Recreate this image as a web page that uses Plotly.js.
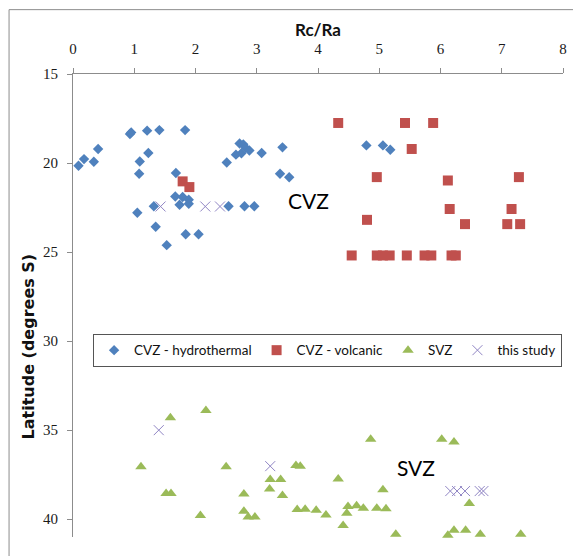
<!DOCTYPE html>
<html>
<head>
<meta charset="utf-8">
<script src="https://cdn.plot.ly/plotly-3.0.1.min.js"></script>
<style>html,body{margin:0;padding:0;background:#fff;}#chart{width:573px;height:556px;}</style>
</head>
<body>
<div id="chart"></div>
<script>
// Rc/Ra vs latitude (degrees S)
const hydroRcRa = [0.09,0.18,0.34,0.41,0.93,0.95,1.21,1.41,1.83,1.23,1.09,1.08,1.68,1.67,1.79,1.89,1.74,1.89,1.05,1.32,1.35,1.53,1.84,2.05,2.51,2.54,2.80,2.96,2.66,2.72,2.78,2.82,2.88,2.75,3.08,3.42,3.38,3.53,4.79,5.06,5.18];
const hydroLat  = [20.15,19.78,19.93,19.21,18.37,18.28,18.18,18.15,18.15,19.44,19.91,20.6,20.56,21.88,21.91,22.06,22.34,22.29,22.79,22.43,23.58,24.61,24.0,24.0,19.97,22.43,22.43,22.43,19.53,18.9,18.95,19.15,19.3,19.45,19.44,19.12,20.6,20.8,19.01,19.01,19.25];

const volcRcRa = [4.33,5.42,5.88,5.53,4.96,6.12,7.28,6.15,7.16,4.80,6.40,7.09,7.30,4.55,4.96,5.06,5.17,5.45,5.74,5.85,6.18,6.25,1.79,1.90];
const volcLat  = [17.75,17.75,17.75,19.21,20.79,20.98,20.79,22.58,22.58,23.19,23.43,23.43,23.43,25.19,25.19,25.19,25.19,25.19,25.19,25.19,25.19,25.19,21.03,21.35];

const svzRcRa = [1.59,2.17,1.11,2.50,1.52,1.60,2.08,2.79,2.79,2.86,2.97,3.22,3.39,3.21,3.42,3.64,3.71,3.66,3.79,3.97,4.13,4.86,6.02,6.22,4.33,5.06,4.49,4.63,4.74,4.47,4.96,5.11,4.41,5.27,6.47,6.12,6.22,6.41,6.65,7.31];
const svzLat  = [34.31,33.90,37.06,37.06,38.56,38.56,39.79,38.58,39.55,39.87,39.87,37.77,37.77,38.30,38.67,36.99,37.02,39.46,39.44,39.5,39.76,35.51,35.51,35.67,37.75,38.35,39.29,39.25,39.38,39.66,39.38,39.42,40.36,40.85,39.12,40.9,40.62,40.62,40.85,40.85];

const studyRcRa = [1.43,2.16,2.40,1.40,3.22,6.16,6.27,6.40,6.64,6.70];
const studyLat  = [22.44,22.44,22.44,35.0,37.02,38.42,38.42,38.42,38.42,38.42];

const seriesNames = ["CVZ - hydrothermal","CVZ - volcanic","SVZ","this study"];
const regionLabels = ["CVZ","SVZ"];
const regionLabelX = [3.85,5.60];
const regionLabelY = [22.12,37.08];
const xTitle = "Rc/Ra";
const yTitle = "Latitude (degrees S)";

const sans = "Lato, 'Open Sans', sans-serif";
const serif = "'Liberation Serif', 'DejaVu Serif', serif";

const traces = [
  {x: hydroRcRa, y: hydroLat, name: seriesNames[0], type: "scatter", mode: "markers", cliponaxis: false,
   marker: {symbol: "diamond", size: 8, color: "#4F81BD", line: {width: 0}}},
  {x: volcRcRa, y: volcLat, name: seriesNames[1], type: "scatter", mode: "markers", cliponaxis: false,
   marker: {symbol: "square", size: 10, color: "#C0504D", line: {width: 0}}},
  {x: svzRcRa, y: svzLat, name: seriesNames[2], type: "scatter", mode: "markers", cliponaxis: false,
   marker: {symbol: "triangle-up", size: 10, color: "#9BBB59", line: {width: 0}}},
  {x: studyRcRa, y: studyLat, name: seriesNames[3], type: "scatter", mode: "markers", cliponaxis: false,
   marker: {symbol: "x-thin-open", size: 10, color: "#9085C4", line: {width: 1, color: "#9085C4"}}}
];

const axisGray = "#8C8C8C";
const layout = {
  width: 573, height: 556,
  margin: {l: 73, r: 10, t: 74, b: 19, pad: 0},
  paper_bgcolor: "#fff", plot_bgcolor: "#fff",
  showlegend: true,
  legend: {orientation: "h", x: 0.041, y: 0.4387, xanchor: "left", yanchor: "top",
    bgcolor: "#fff", bordercolor: "#555", borderwidth: 1,
    font: {family: sans, size: 13.5, color: "#111"}, itemwidth: 30, tracegroupgap: 0},
  xaxis: {side: "top", range: [0, 8], dtick: 1, tick0: 0, showgrid: false, zeroline: false,
    showline: true, linecolor: axisGray, linewidth: 1, ticks: "outside", ticklen: 5, tickcolor: axisGray,
    ticklabelstandoff: 8,
    tickfont: {family: serif, size: 15, color: "#1a1a1a"},
    title: {text: xTitle, font: {family: sans, size: 17, color: "#111", weight: "bold"}, standoff: 0}},
  yaxis: {range: [41, 15], dtick: 5, tick0: 15, showgrid: false, zeroline: false,
    showline: true, linecolor: axisGray, linewidth: 1, ticks: "outside", ticklen: 5, tickcolor: axisGray,
    ticklabelstandoff: 6,
    tickfont: {family: serif, size: 15, color: "#1a1a1a"}},
  annotations: [
    {text: regionLabels[0], x: regionLabelX[0], y: regionLabelY[0], xref: "x", yref: "y", showarrow: false,
     font: {family: sans, size: 21, color: "#000"}},
    {text: regionLabels[1], x: regionLabelX[1], y: regionLabelY[1], xref: "x", yref: "y", showarrow: false,
     font: {family: sans, size: 21, color: "#000"}},
    {text: yTitle, x: 0, xref: "paper", xanchor: "center", xshift: -45, y: 30.3, yref: "y", yanchor: "middle",
     textangle: -90, showarrow: false, font: {family: "'DejaVu Sans', sans-serif", size: 16, color: "#111", weight: "bold"}}
  ],
  shapes: [
    {type: "line", xref: "paper", yref: "paper", x0: -0.1305, x1: 1.03, y0: 1.139, y1: 1.139,
     line: {color: axisGray, width: 1}},
    {type: "line", xref: "paper", yref: "paper", x0: -0.1305, x1: -0.1305, y0: 1.139, y1: -0.05,
     line: {color: axisGray, width: 1}}
  ]
};

Plotly.newPlot("chart", traces, layout, {displayModeBar: false, staticPlot: true});
</script>
</body>
</html>
